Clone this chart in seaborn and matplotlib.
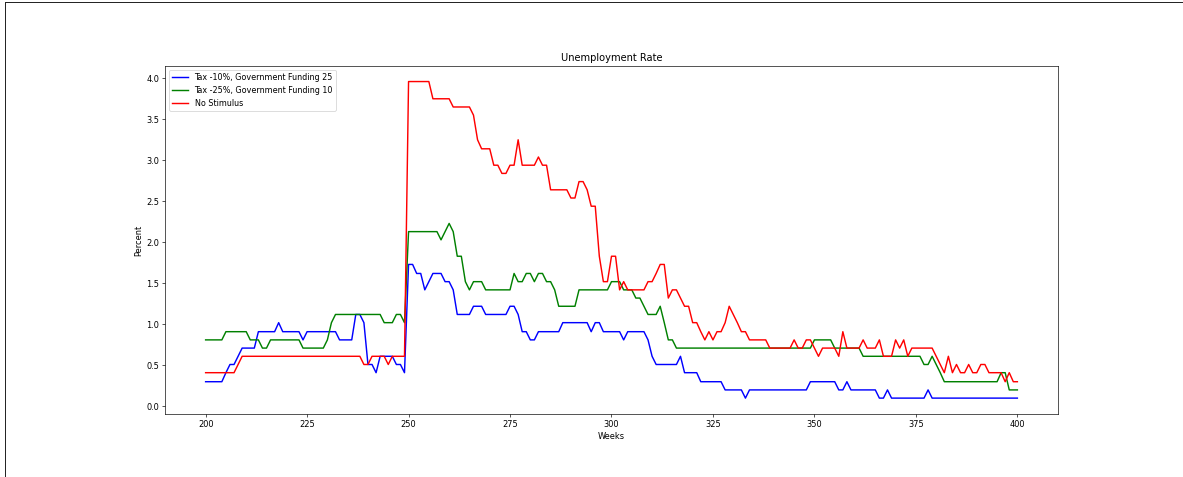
import numpy as np
import pandas as pd
import matplotlib
matplotlib.use("Agg")
import matplotlib.pyplot as plt
from matplotlib.lines import Line2D
import seaborn as sns

weeks = list(range(200, 401))

tax10_fund25 = [
    0.30, 0.30, 0.30, 0.30, 0.30, 0.41, 0.51, 0.51, 0.61, 0.71,
    0.71, 0.71, 0.71, 0.91, 0.91, 0.91, 0.91, 0.91, 1.02, 0.91,
    0.91, 0.91, 0.91, 0.91, 0.81, 0.91, 0.91, 0.91, 0.91, 0.91,
    0.91, 0.91, 0.91, 0.81, 0.81, 0.81, 0.81, 1.12, 1.12, 1.02,
    0.51, 0.51, 0.41, 0.61, 0.61, 0.61, 0.61, 0.51, 0.51, 0.41,
    1.73, 1.73, 1.62, 1.62, 1.42, 1.52, 1.62, 1.62, 1.62, 1.52,
    1.52, 1.42, 1.12, 1.12, 1.12, 1.12, 1.22, 1.22, 1.22, 1.12,
    1.12, 1.12, 1.12, 1.12, 1.12, 1.22, 1.22, 1.12, 0.91, 0.91,
    0.81, 0.81, 0.91, 0.91, 0.91, 0.91, 0.91, 0.91, 1.02, 1.02,
    1.02, 1.02, 1.02, 1.02, 1.02, 0.91, 1.02, 1.02, 0.91, 0.91,
    0.91, 0.91, 0.91, 0.81, 0.91, 0.91, 0.91, 0.91, 0.91, 0.81,
    0.61, 0.51, 0.51, 0.51, 0.51, 0.51, 0.51, 0.61, 0.41, 0.41,
    0.41, 0.41, 0.30, 0.30, 0.30, 0.30, 0.30, 0.30, 0.20, 0.20,
    0.20, 0.20, 0.20, 0.10, 0.20, 0.20, 0.20, 0.20, 0.20, 0.20,
    0.20, 0.20, 0.20, 0.20, 0.20, 0.20, 0.20, 0.20, 0.20, 0.30,
    0.30, 0.30, 0.30, 0.30, 0.30, 0.30, 0.20, 0.20, 0.30, 0.20,
    0.20, 0.20, 0.20, 0.20, 0.20, 0.20, 0.10, 0.10, 0.20, 0.10,
    0.10, 0.10, 0.10, 0.10, 0.10, 0.10, 0.10, 0.10, 0.20, 0.10,
    0.10, 0.10, 0.10, 0.10, 0.10, 0.10, 0.10, 0.10, 0.10, 0.10,
    0.10, 0.10, 0.10, 0.10, 0.10, 0.10, 0.10, 0.10, 0.10, 0.10,
    0.10,
]

tax25_fund10 = [
    0.81, 0.81, 0.81, 0.81, 0.81, 0.91, 0.91, 0.91, 0.91, 0.91,
    0.91, 0.81, 0.81, 0.81, 0.71, 0.71, 0.81, 0.81, 0.81, 0.81,
    0.81, 0.81, 0.81, 0.81, 0.71, 0.71, 0.71, 0.71, 0.71, 0.71,
    0.81, 1.02, 1.12, 1.12, 1.12, 1.12, 1.12, 1.12, 1.12, 1.12,
    1.12, 1.12, 1.12, 1.12, 1.02, 1.02, 1.02, 1.12, 1.12, 1.02,
    2.13, 2.13, 2.13, 2.13, 2.13, 2.13, 2.13, 2.13, 2.03, 2.13,
    2.23, 2.13, 1.83, 1.83, 1.52, 1.42, 1.52, 1.52, 1.52, 1.42,
    1.42, 1.42, 1.42, 1.42, 1.42, 1.42, 1.62, 1.52, 1.52, 1.62,
    1.62, 1.52, 1.62, 1.62, 1.52, 1.52, 1.42, 1.22, 1.22, 1.22,
    1.22, 1.22, 1.42, 1.42, 1.42, 1.42, 1.42, 1.42, 1.42, 1.42,
    1.52, 1.52, 1.52, 1.42, 1.42, 1.42, 1.32, 1.32, 1.22, 1.12,
    1.12, 1.12, 1.22, 1.02, 0.81, 0.81, 0.71, 0.71, 0.71, 0.71,
    0.71, 0.71, 0.71, 0.71, 0.71, 0.71, 0.71, 0.71, 0.71, 0.71,
    0.71, 0.71, 0.71, 0.71, 0.71, 0.71, 0.71, 0.71, 0.71, 0.71,
    0.71, 0.71, 0.71, 0.71, 0.71, 0.71, 0.71, 0.71, 0.71, 0.71,
    0.81, 0.81, 0.81, 0.81, 0.81, 0.71, 0.71, 0.71, 0.71, 0.71,
    0.71, 0.71, 0.61, 0.61, 0.61, 0.61, 0.61, 0.61, 0.61, 0.61,
    0.61, 0.61, 0.61, 0.61, 0.61, 0.61, 0.61, 0.51, 0.51, 0.61,
    0.51, 0.41, 0.30, 0.30, 0.30, 0.30, 0.30, 0.30, 0.30, 0.30,
    0.30, 0.30, 0.30, 0.30, 0.30, 0.30, 0.41, 0.41, 0.20, 0.20,
    0.20,
]

no_stimulus = [
    0.41, 0.41, 0.41, 0.41, 0.41, 0.41, 0.41, 0.41, 0.51, 0.61,
    0.61, 0.61, 0.61, 0.61, 0.61, 0.61, 0.61, 0.61, 0.61, 0.61,
    0.61, 0.61, 0.61, 0.61, 0.61, 0.61, 0.61, 0.61, 0.61, 0.61,
    0.61, 0.61, 0.61, 0.61, 0.61, 0.61, 0.61, 0.61, 0.61, 0.51,
    0.51, 0.61, 0.61, 0.61, 0.61, 0.51, 0.61, 0.61, 0.61, 0.61,
    3.96, 3.96, 3.96, 3.96, 3.96, 3.96, 3.75, 3.75, 3.75, 3.75,
    3.75, 3.65, 3.65, 3.65, 3.65, 3.65, 3.55, 3.25, 3.14, 3.14,
    3.14, 2.94, 2.94, 2.84, 2.84, 2.94, 2.94, 3.25, 2.94, 2.94,
    2.94, 2.94, 3.04, 2.94, 2.94, 2.64, 2.64, 2.64, 2.64, 2.64,
    2.54, 2.54, 2.74, 2.74, 2.64, 2.44, 2.44, 1.83, 1.52, 1.52,
    1.83, 1.83, 1.42, 1.52, 1.42, 1.42, 1.42, 1.42, 1.42, 1.52,
    1.52, 1.62, 1.73, 1.73, 1.32, 1.42, 1.42, 1.32, 1.22, 1.22,
    1.02, 1.02, 0.91, 0.81, 0.91, 0.81, 0.91, 0.91, 1.02, 1.22,
    1.12, 1.02, 0.91, 0.91, 0.81, 0.81, 0.81, 0.81, 0.81, 0.71,
    0.71, 0.71, 0.71, 0.71, 0.71, 0.81, 0.71, 0.71, 0.81, 0.81,
    0.71, 0.61, 0.71, 0.71, 0.71, 0.71, 0.61, 0.91, 0.71, 0.71,
    0.71, 0.71, 0.81, 0.71, 0.71, 0.71, 0.81, 0.61, 0.61, 0.61,
    0.81, 0.71, 0.81, 0.61, 0.71, 0.71, 0.71, 0.71, 0.71, 0.71,
    0.61, 0.51, 0.41, 0.61, 0.41, 0.51, 0.41, 0.41, 0.51, 0.41,
    0.41, 0.51, 0.51, 0.41, 0.41, 0.41, 0.41, 0.30, 0.41, 0.30,
    0.30,
]

series_labels = [
    "Tax -10%, Government Funding 25",
    "Tax -25%, Government Funding 10",
    "No Stimulus",
]
series_colors = ["blue", "green", "red"]

fig = plt.figure(figsize=(20, 8.07), dpi=59.15)
ax = fig.add_axes([0.1395, 0.1321, 0.7548, 0.7295])

for values, label, color in zip(
    [tax10_fund25, tax25_fund10, no_stimulus], series_labels, series_colors
):
    df = pd.DataFrame({"Weeks": weeks, "Percent": values})
    sns.lineplot(data=df, x="Weeks", y="Percent", color=color, label=label,
                 linewidth=1.75, ax=ax)

ax.set_title("Unemployment Rate")
ax.set_xlabel("Weeks")
ax.set_ylabel("Percent")
ax.set_xticks([200, 225, 250, 275, 300, 325, 350, 375, 400])
ax.set_yticks(np.arange(0, 4.01, 0.5))
ax.legend(loc="upper left", fontsize=9.7)

# thin frame along the left and top edges of the canvas
fy = 1 - 2 / 477
fx = 5 / 1183
fig.add_artist(Line2D([fx, fx], [0, fy], color="#222222", linewidth=1.2,
                      transform=fig.transFigure))
fig.add_artist(Line2D([fx, 1], [fy, fy], color="#222222", linewidth=1.2,
                      transform=fig.transFigure))

fig.savefig("out.png", dpi=59.15)
